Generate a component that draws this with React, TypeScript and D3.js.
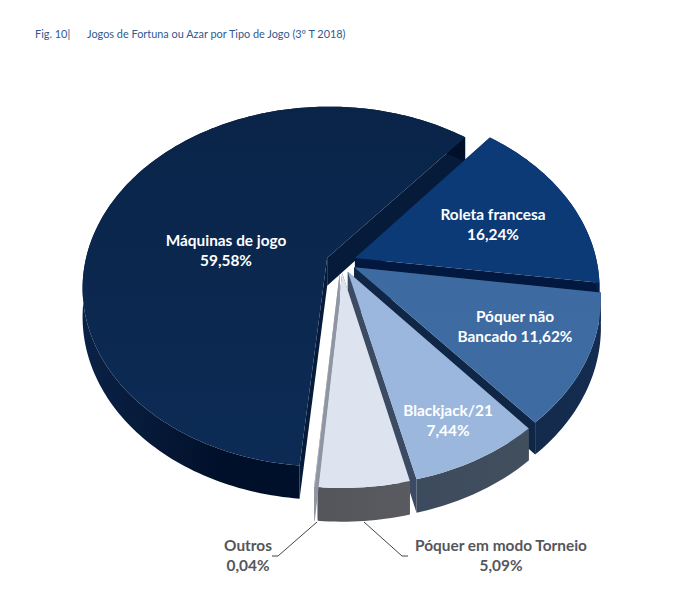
import React from 'react';
import * as d3 from 'd3';

// chart values
const CATEGORIES = ['Máquinas de jogo', 'Roleta francesa', 'Póquer não Bancado', 'Blackjack/21', 'Póquer em modo Torneio', 'Outros'];
const VALUES = [59.58, 16.24, 11.62, 7.44, 5.09, 0.04];
const VALUE_LABELS = ['59,58%', '16,24%', '11,62%', '7,44%', '5,09%', '0,04%'];

const TOP_COLORS = ['#0a2448', '#0c3a78', '#3d6a9f', '#9ab6dc', '#dde4f0', '#b4bac8'];
const TOP_LOWER = ['#0c2b55', '#0b3a76', '#3e6ba1', '#9bb7dc', '#dde4f0', '#b4bac8'];
const SIDE_LIGHT = ['#0a2145', '#04214d', '#142c4f', '#46525f', '#67676e', '#8f95a3'];
const SIDE_DARK = ['#01102a', '#021a40', '#0f2646', '#38475c', '#55555c', '#8f95a3'];
const CUT_COLORS = ['#061a3a', '#02183f', '#0f2646', '#3b4b63', '#55555c', '#8f95a3'];

const WIDTH = 700;
const HEIGHT = 609;
const CX = 341;
const CY = 262;
const RADIUS = 242;
const SQUASH = 0.73;
const PERSPECTIVE = 0.16;
const DEPTH = 28;
const EXPLODE = 15;
const START = (185 * Math.PI) / 180;

type Pt = [number, number];

// plane coordinates (y down) to screen, z = extrusion below the top face
const project = (x: number, y: number, z = 0): Pt => {
  const s = 1 / (1 - (y / RADIUS) * PERSPECTIVE);
  return [CX + x * s, CY + y * SQUASH * s + z * s];
};

const pie = d3
  .pie<number>()
  .sort(null)
  .startAngle(START)
  .endAngle(START + Math.PI * 2);

const line = d3.line<Pt>();

const App: React.FC = () => {
  const arcs = pie(VALUES);

  const slices = arcs.map((a, i) => {
    const mid = (a.startAngle + a.endAngle) / 2;
    const ox = Math.sin(mid) * EXPLODE;
    const oy = -Math.cos(mid) * EXPLODE;
    const n = Math.max(2, Math.ceil((a.endAngle - a.startAngle) / 0.02));
    const angles = d3.range(n + 1).map((k) => a.startAngle + ((a.endAngle - a.startAngle) * k) / n);
    const rim = (z: number) =>
      angles.map((t) => project(ox + Math.sin(t) * RADIUS, oy - Math.cos(t) * RADIUS, z));
    const topRim = rim(0);
    const lowRim = rim(DEPTH);
    const apex = project(ox, oy);
    const apexLow = project(ox, oy, DEPTH);
    return {
      i,
      top: line([apex, ...topRim])! + 'Z',
      wall: line([...topRim, ...[...lowRim].reverse()])! + 'Z',
      cutStart: line([apex, topRim[0], lowRim[0], apexLow])! + 'Z',
      cutEnd: line([apex, topRim[n], lowRim[n], apexLow])! + 'Z',
    };
  });

  return (
    <svg
      width={WIDTH}
      height={HEIGHT}
      style={{ position: 'absolute', left: 0, top: 0, fontFamily: 'Lato, sans-serif' }}
    >
      <defs>
        {slices.map((s) => (
          <linearGradient
            key={s.i}
            id={`wall-${s.i}`}
            gradientUnits="userSpaceOnUse"
            x1={s.i === 0 ? 90 : 330}
            x2={s.i === 0 ? 220 : 610}
            y1={0}
            y2={0}
          >
            <stop offset="0" stopColor={s.i === 0 ? SIDE_LIGHT[s.i] : SIDE_DARK[s.i]} />
            <stop offset="1" stopColor={s.i === 0 ? SIDE_DARK[s.i] : SIDE_LIGHT[s.i]} />
          </linearGradient>
        ))}
        {slices.map((s) => (
          <linearGradient key={s.i} id={`top-${s.i}`} gradientUnits="userSpaceOnUse" x1={0} x2={0} y1={90} y2={480}>
            <stop offset="0" stopColor={TOP_COLORS[s.i]} />
            <stop offset="1" stopColor={TOP_LOWER[s.i]} />
          </linearGradient>
        ))}
      </defs>
      <rect width={WIDTH} height={HEIGHT} fill="#fff" />
      <text x={35} y={38} fontSize={10.9} fill="#2f5a8f">
        Fig. 10|
      </text>
      <text x={87} y={38} fontSize={10.9} fill="#2f5a8f">
        Jogos de Fortuna ou Azar por Tipo de Jogo (3º T 2018)
      </text>

      {slices.map((s) => (
        <g key={s.i}>
          <path d={s.cutStart} fill={CUT_COLORS[s.i]} />
          <path d={s.cutEnd} fill={CUT_COLORS[s.i]} />
          <path d={s.wall} fill={`url(#wall-${s.i})`} />
          <path d={s.top} fill={`url(#top-${s.i})`} />
        </g>
      ))}

      <g fontSize={15.4} fontWeight={700} textAnchor="middle" fill="#fff">
        <text x={226} y={246}>{CATEGORIES[0]}</text>
        <text x={226} y={266}>{VALUE_LABELS[0]}</text>
        <text x={493} y={220}>{CATEGORIES[1]}</text>
        <text x={493} y={240}>{VALUE_LABELS[1]}</text>
        <text x={515} y={322}>Póquer não</text>
        <text x={515} y={342}>Bancado {VALUE_LABELS[2]}</text>
        <text x={448} y={416}>{CATEGORIES[3]}</text>
        <text x={448} y={436}>{VALUE_LABELS[3]}</text>
      </g>
      <g fontSize={15.4} fontWeight={700} textAnchor="middle" fill="#55565c">
        <text x={248} y={551}>{CATEGORIES[5]}</text>
        <text x={248} y={571}>{VALUE_LABELS[5]}</text>
        <text x={501} y={551}>{CATEGORIES[4]}</text>
        <text x={501} y={571}>{VALUE_LABELS[4]}</text>
      </g>
      <g fill="none" stroke="#444" strokeWidth={1}>
        <path d="M317,522L278,556L272,556" />
        <path d="M364,522L402,556L408,556" />
      </g>
    </svg>
  );
};

export default App;
